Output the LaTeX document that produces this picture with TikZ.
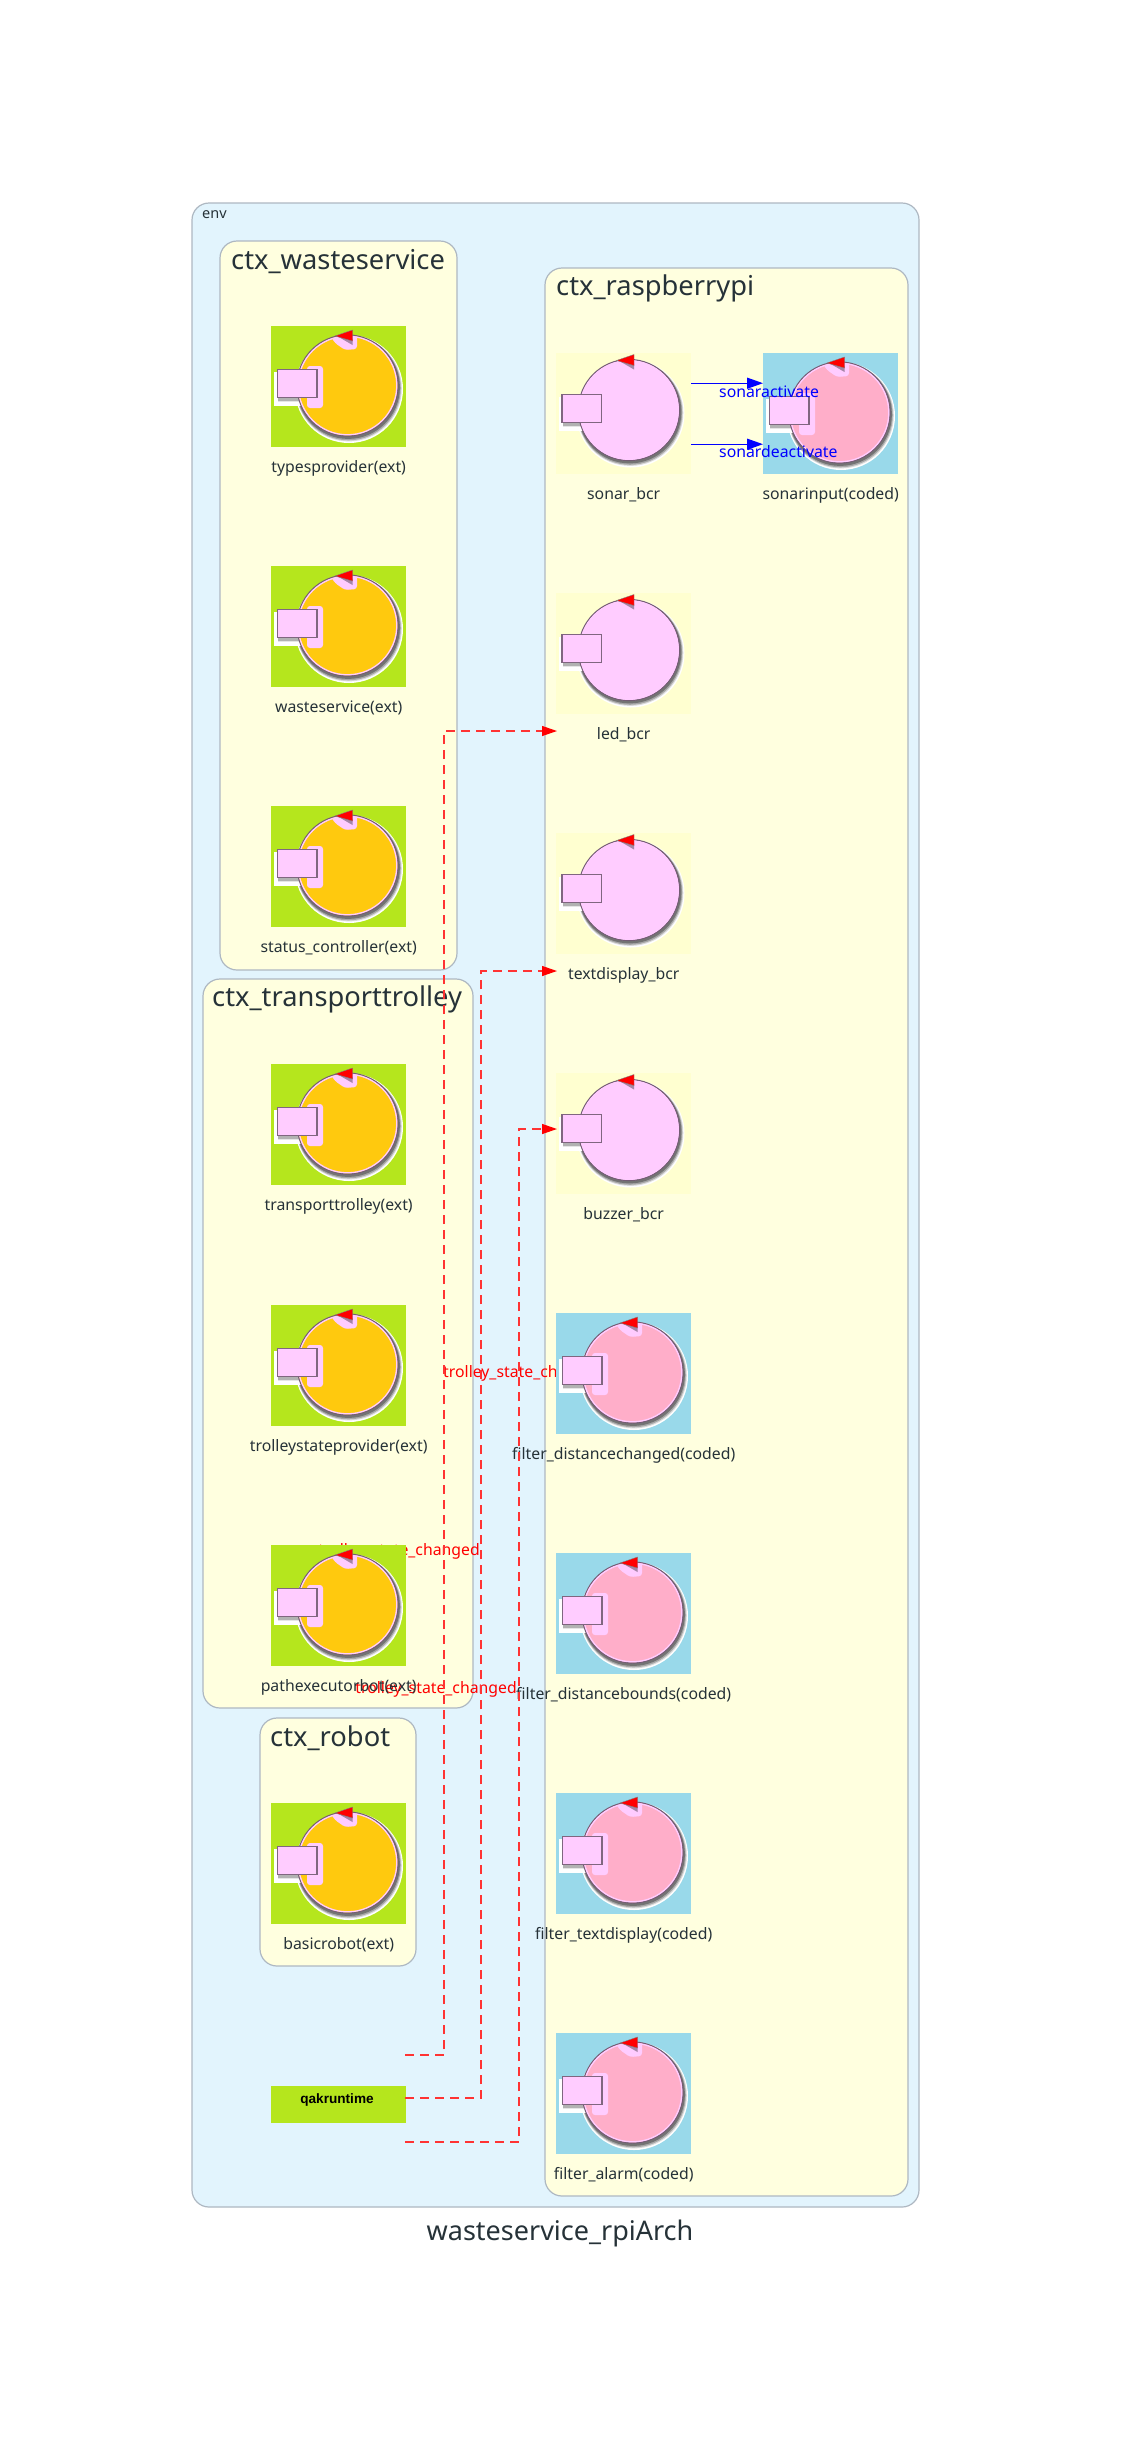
\documentclass[tikz,border=0pt]{standalone}
\usepackage{fontspec}
\setmainfont{Noto Sans}
\newfontfamily\qakfont{Liberation Sans}
\usetikzlibrary{arrows.meta}
\definecolor{envfill}{HTML}{E2F4FD}
\definecolor{frameline}{HTML}{AEB8C2}
\definecolor{ctxfill}{HTML}{FFFFDF}
\definecolor{txtcol}{HTML}{263238}
\definecolor{greenbg}{HTML}{B5E61D}
\definecolor{tealbg}{HTML}{99D9EA}
\definecolor{creambg}{HTML}{FFFFD0}
\definecolor{orangefill}{HTML}{FFC90E}
\definecolor{pinkfill}{HTML}{FFAEC9}
\definecolor{lilac}{HTML}{FFCCFF}
\definecolor{redline}{HTML}{FF3333}
\tikzset{
  envbox/.style={draw=frameline,fill=envfill,line width=1.2pt,rounded corners=17pt},
  ctxbox/.style={draw=frameline,fill=ctxfill,line width=1.2pt,rounded corners=17pt},
  ctxtitle/.style={anchor=west,inner sep=0pt,text=txtcol,font=\fontsize{27.3}{30}\selectfont},
  actlabel/.style={inner sep=0pt,text=txtcol,font=\fontsize{15.8}{18}\selectfont},
  iconbg/.style={draw=none,inner sep=0pt,minimum width=135pt,minimum height=121pt,anchor=north west},
  msgred/.style={inner sep=0pt,text=red,font=\fontsize{15.8}{18}\selectfont},
  msgblue/.style={inner sep=0pt,text=blue,anchor=west,font=\fontsize{15.8}{18}\selectfont},
  redconn/.style={draw=redline,line width=1.2pt,dash pattern=on 9pt off 6pt,-{Triangle[length=15pt,width=10pt,fill=red,color=red]}},
  blueconn/.style={draw=blue,line width=1.3pt,-{Triangle[length=16pt,width=11pt,fill=blue]}}
}
% name, x, y, background, fill, label, shift of the circle, shift of the small box
\newcommand{\actoricon}[8]{%
  \node[iconbg,fill=#4] (#1) at (#2,#3) {};
  \begin{scope}[shift={(#1.north west)}]
    \begin{scope}[shift={(#7)}]
      \fill[white] (78,63) circle[radius=54];
      \fill[black!15] (77.8,62.4) circle[radius=53];
      \fill[black!35] (77.5,62) circle[radius=52.3];
      \fill[black!55] (77.2,61.2) circle[radius=51.7];
    \end{scope}
    \begin{scope}[shift={(#8)}]
      \fill[white] (3,46) rectangle (44,80);
      \fill[black!10] (7,72) rectangle (46,76);
      \fill[black!30] (7,72) rectangle (46,74.5);
    \end{scope}
    \begin{scope}[shift={(#7)}]
      \draw[draw=black!55!lilac,line width=1.2pt,fill=#5] (76.5,59.5) circle[radius=50.5];
      \draw[lilac,line width=1.3pt] (76.5,59.5) circle[radius=49.3];
      \begin{scope}
        \clip (76.5,59.5) circle[radius=49.6];
        \fill[lilac,rounded corners=3pt] (58,8) -- (86,6) -- (86,23) -- (74,24) -- (64,17) -- cycle;
        \fill[black!35!lilac] (66,10) -- (81.5,13) -- (81.5,19) -- cycle;
      \end{scope}
    \end{scope}
    \begin{scope}[shift={(#8)}]
      \begin{scope}
        \clip (76.5,59.5) circle[radius=49.6];
        \fill[lilac,rounded corners=3pt] (36,40) rectangle (52,82);
      \end{scope}
      \draw[draw=black!50!lilac,line width=1.8pt,fill=lilac] (6.5,43.5) rectangle (46,71.5);
    \end{scope}
    \begin{scope}[shift={(#7)}]
      \fill[red,draw=black!50,line width=.4pt] (64,10) -- (81.5,4) -- (81.5,15) -- cycle;
    \end{scope}
  \end{scope}
  \node[actlabel] (#1_label) at ([yshift=-20.5pt]#1.south) {#6};
}
\newcommand{\extactor}[4]{\actoricon{#1}{#2}{#3}{greenbg}{orangefill}{#4}{0,0}{0,0}}
\newcommand{\bcractor}[4]{\actoricon{#1}{#2}{#3}{creambg}{lilac}{#4}{-3.5,-2.5}{-0.5,-2}}
\newcommand{\codedactor}[4]{\actoricon{#1}{#2}{#3}{tealbg}{pinkfill}{#4}{0,0}{0,0}}
\begin{document}
\begin{tikzpicture}[x=1pt,y=-1pt]
\useasboundingbox (0,0) rectangle (1121,2452);
\fill[white] (0,0) rectangle (1121,2452);

\draw[envbox] (192,203) rectangle (919,2207);
\node[anchor=west,inner sep=0pt,text=txtcol,font=\fontsize{14.5}{17}\selectfont] (envlabel) at (202,215) {env};

\draw[ctxbox] (220,241) rectangle (457,970);
\draw[ctxbox] (545,268) rectangle (908,2196);
\draw[ctxbox] (203,979) rectangle (473,1708);
\draw[ctxbox] (260,1718) rectangle (416,1966);

\node[ctxtitle] (t1) at (231,262) {ctx\_wasteservice};
\node[ctxtitle] (t2) at (556,288) {ctx\_raspberrypi};
\node[ctxtitle] (t3) at (212,999) {ctx\_transporttrolley};
\node[ctxtitle] (t4) at (270,1738) {ctx\_robot};

% message labels lie under the actor images
\node[msgred,anchor=east] (m1) at (480,1551) {trolley\_state\_changed};
\node[msgred,anchor=west] (m2) at (443,1373) {trolley\_state\_changed};
\node[msgred,anchor=east] (m3) at (517,1689) {trolley\_state\_changed};

% actors
\extactor{typesprovider}{271}{326}{typesprovider(ext)}
\extactor{wasteservice}{271}{566}{wasteservice(ext)}
\extactor{statuscontroller}{271}{806}{status\_controller(ext)}
\extactor{transporttrolley}{271}{1064}{transporttrolley(ext)}
\extactor{trolleystateprovider}{271}{1305}{trolleystateprovider(ext)}
\extactor{pathexecutorbot}{271}{1545}{pathexecutorbot(ext)}
\extactor{basicrobot}{271}{1803}{basicrobot(ext)}

\bcractor{sonar}{556}{353}{sonar\_bcr}
\codedactor{sonarinput}{763}{353}{sonarinput(coded)}
\bcractor{led}{556}{593}{led\_bcr}
\bcractor{textdisplay}{556}{833}{textdisplay\_bcr}
\bcractor{buzzer}{556}{1073}{buzzer\_bcr}
\codedactor{fdistchanged}{556}{1313}{filter\_distancechanged(coded)}
\codedactor{fdistbounds}{556}{1553}{filter\_distancebounds(coded)}
\codedactor{ftextdisplay}{556}{1793}{filter\_textdisplay(coded)}
\codedactor{falarm}{556}{2033}{filter\_alarm(coded)}

\node[iconbg,fill=greenbg,minimum height=36.5pt] (qak) at (271,2086) {};
\node[inner sep=0pt,text=black,font=\qakfont\bfseries\fontsize{13.6}{16}\selectfont] (qaktext) at (337,2100) {qakruntime};

% free ends of the dashed connectors
\coordinate (src1) at (405,2055);
\coordinate (src2) at (405,2098);
\coordinate (src3) at (405,2142);
\coordinate (bend1) at (444,2055);
\coordinate (bend2) at (481,2098);
\coordinate (bend3) at (519,2142);
\coordinate (dst1) at (557,731);
\coordinate (dst2) at (557,971);
\coordinate (dst3) at (557,1129);

\draw[redconn] (src1) -- (bend1) |- (dst1);
\draw[redconn] (src2) -- (bend2) |- (dst2);
\draw[redconn] (src3) -- (bend3) |- (dst3);

\draw[blueconn] ([yshift=30.5pt]sonar.east) -- ([yshift=30.5pt]sonarinput.west);
\draw[blueconn] ([yshift=-30.5pt]sonar.east) -- ([yshift=-30.5pt]sonarinput.west);
\node[msgblue] (b1) at (719,392) {sonaractivate};
\node[msgblue] (b2) at (719,452) {sonardeactivate};

\node[inner sep=0pt,text=txtcol,font=\fontsize{27}{30}\selectfont] (title) at (560,2233) {wasteservice\_rpiArch};
\end{tikzpicture}
\end{document}
